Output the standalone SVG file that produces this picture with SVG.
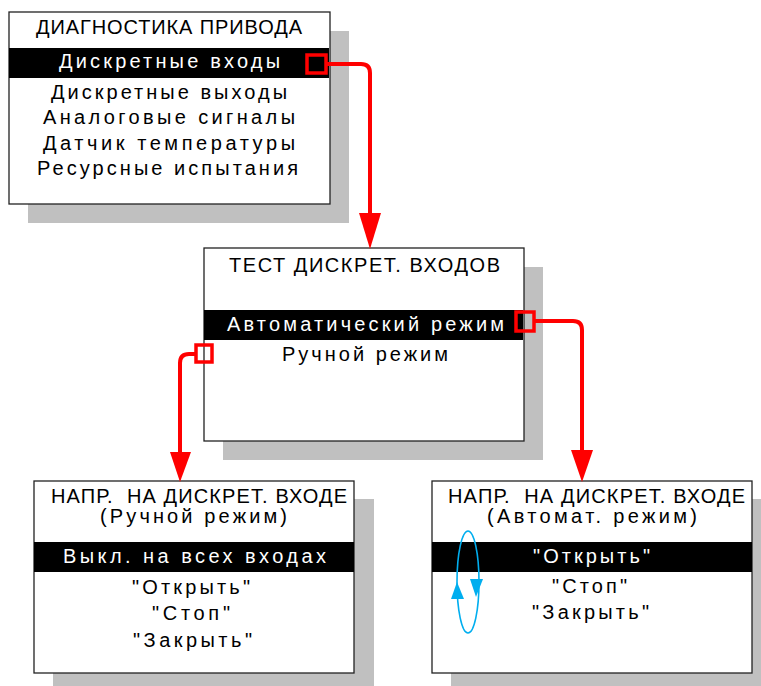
<svg xmlns="http://www.w3.org/2000/svg" width="761" height="686" viewBox="0 0 761 686">
<style>
.shadow{fill:#c0c0c0}
.box{fill:#fff;stroke:#222;stroke-width:1.3}
.bar{fill:#000}
text{font-family:"Liberation Sans",Arial,sans-serif;font-size:20px;fill:#000}
.inv{fill:#fff}
.conn{fill:none;stroke:#ff0000;stroke-width:4}
.head{fill:#ff0000}
.sq{fill:none;stroke:#ff0000;stroke-width:3.5}
.cyc{fill:none;stroke:#00aeef;stroke-width:1.6}
.cyh{fill:#00aeef}
</style>
<rect width="761" height="686" fill="#fff"/>

<g id="node-diag">
<rect class="shadow" x="28" y="31" width="321" height="192"/>
<rect class="box" x="9" y="12" width="321" height="192"/>
<rect class="bar" x="9" y="48" width="320" height="30"/>
<text x="36" y="34" textLength="266" lengthAdjust="spacing">ДИАГНОСТИКА ПРИВОДА</text>
<text class="inv" x="59" y="68" textLength="221" lengthAdjust="spacing">Дискретные входы</text>
<text x="51" y="99" textLength="236" lengthAdjust="spacing">Дискретные выходы</text>
<text x="43" y="124" textLength="252" lengthAdjust="spacing">Аналоговые сигналы</text>
<text x="43" y="150" textLength="252" lengthAdjust="spacing">Датчик температуры</text>
<text x="37" y="175" textLength="261" lengthAdjust="spacing">Ресурсные испытания</text>
</g>

<g id="node-test">
<rect class="shadow" x="223" y="267" width="320" height="193"/>
<rect class="box" x="204" y="248" width="320" height="193"/>
<rect class="bar" x="204" y="310" width="319" height="30"/>
<text x="229" y="272" textLength="271" lengthAdjust="spacing">ТЕСТ ДИСКРЕТ. ВХОДОВ</text>
<text class="inv" x="227" y="331" textLength="277" lengthAdjust="spacing">Автоматический режим</text>
<text x="282" y="361" textLength="166" lengthAdjust="spacing">Ручной режим</text>
</g>

<g id="node-manual">
<rect class="shadow" x="53" y="499" width="321" height="192"/>
<rect class="box" x="34" y="481" width="320" height="192"/>
<rect class="bar" x="34" y="542" width="320" height="30"/>
<text xml:space="preserve" x="51" y="503" textLength="296" lengthAdjust="spacing">НАПР.  НА ДИСКРЕТ. ВХОДЕ</text>
<text x="100" y="523" textLength="187" lengthAdjust="spacing">(Ручной режим)</text>
<text class="inv" x="63" y="563" textLength="263" lengthAdjust="spacing">Выкл. на всех входах</text>
<text x="132" y="594" textLength="118" lengthAdjust="spacing">"Открыть"</text>
<text x="152" y="620" textLength="78" lengthAdjust="spacing">"Стоп"</text>
<text x="133" y="647" textLength="119" lengthAdjust="spacing">"Закрыть"</text>
</g>

<g id="node-auto">
<rect class="shadow" x="451" y="499" width="321" height="192"/>
<rect class="box" x="432" y="481" width="320" height="192"/>
<rect class="bar" x="432" y="542" width="320" height="30"/>
<text xml:space="preserve" x="448" y="503" textLength="297" lengthAdjust="spacing">НАПР.  НА ДИСКРЕТ. ВХОДЕ</text>
<text x="487" y="523" textLength="210" lengthAdjust="spacing">(Автомат. режим)</text>
<text class="inv" x="533" y="563" textLength="117" lengthAdjust="spacing">"Открыть"</text>
<text x="552" y="593" textLength="75" lengthAdjust="spacing">"Стоп"</text>
<text x="532" y="619" textLength="117" lengthAdjust="spacing">"Закрыть"</text>
<ellipse class="cyc" cx="468" cy="582" rx="11" ry="51"/>
<polygon class="cyh" points="457,582 451,599 464,599"/>
<polygon class="cyh" points="470,579 483,579 476,597"/>
</g>

<g id="connectors">
<path class="conn" d="M326,64 H361 Q370,64 370,73 V215"/>
<polygon class="head" points="359,213 381,213 370,249"/>
<rect class="sq" x="307" y="55" width="19" height="18"/>

<path class="conn" d="M534,321 H573 Q582,321 582,330 V452"/>
<polygon class="head" points="571,450 593,450 582,482"/>
<rect class="sq" x="516" y="312" width="18" height="19"/>

<path class="conn" d="M196,354 H189 Q180,354 180,363 V454"/>
<polygon class="head" points="170,452 191,452 180,482"/>
<rect class="sq" x="196" y="345" width="16" height="17"/>
</g>
</svg>
